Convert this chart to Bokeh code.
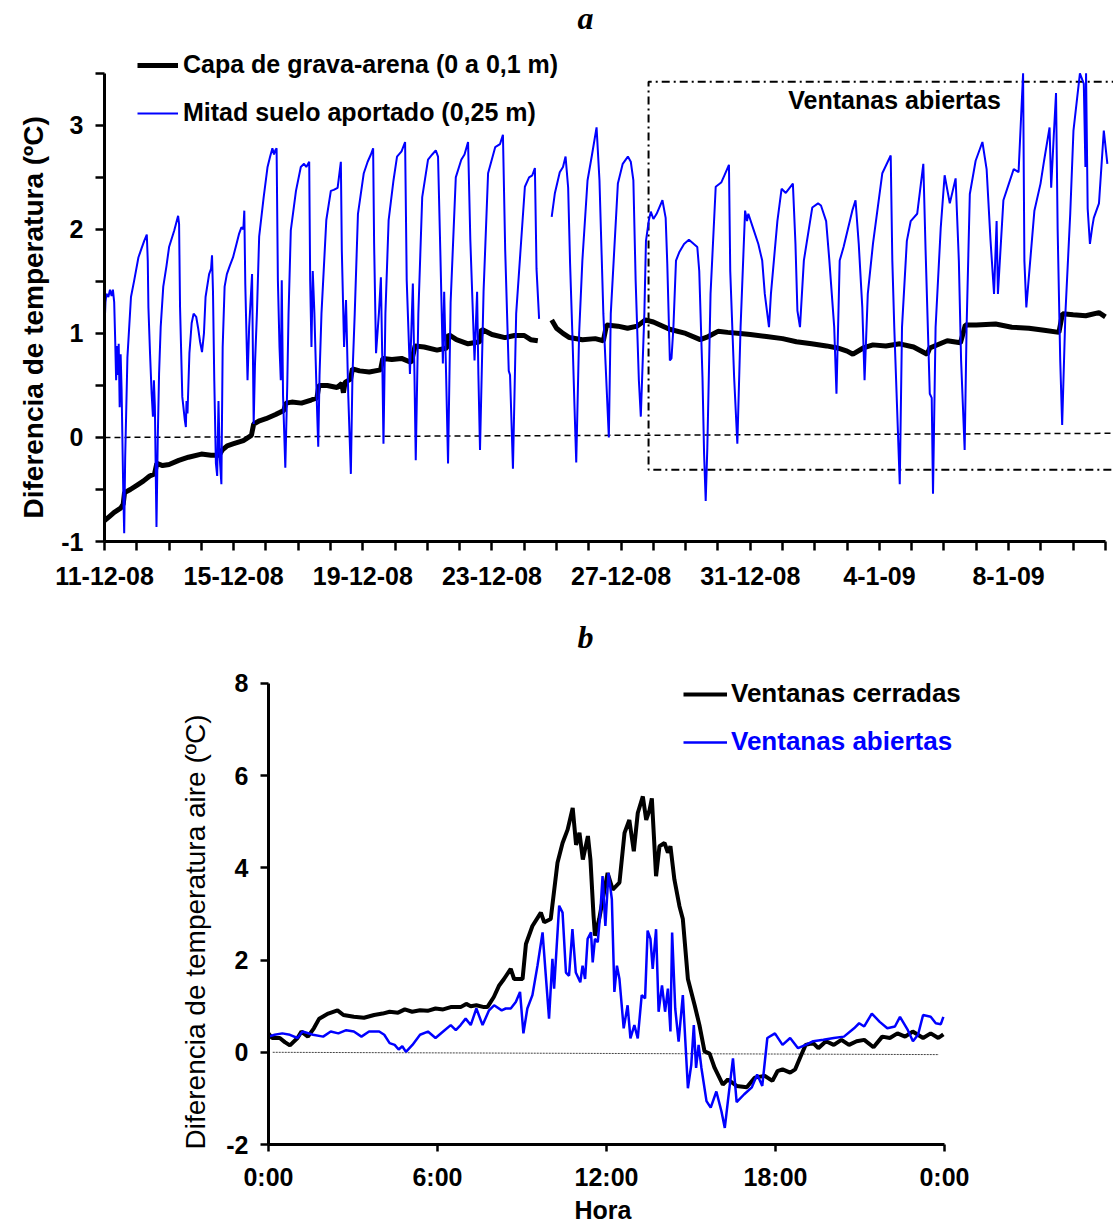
import numpy as np
from bokeh.plotting import figure
from bokeh.models import FixedTicker, Legend, LegendItem, Label, Range1d, Title
from bokeh.embed import file_html
from bokeh.resources import INLINE

nan = float("nan")

# ---------------- Panel a data (x = days since 11-12-08) ----------------
date_labels = ["11-12-08", "15-12-08", "19-12-08", "23-12-08", "27-12-08", "31-12-08", "4-1-09", "8-1-09"]
date_label_days = [0, 4, 8, 12, 16, 20, 24, 28]
n_days = 31

grava_days = [0.00, 0.15, 0.30, 0.50, 0.58, 0.62, 0.80, 1.00, 1.20, 1.40, 1.55, 1.62, 1.80, 2.00, 2.30, 2.60,
              3.00, 3.30, 3.55, 3.65, 3.80, 4.00, 4.30, 4.55, 4.62, 4.80, 5.00, 5.30, 5.55, 5.62, 5.80, 6.10,
              6.40, 6.58, 6.64, 6.90, 7.20, 7.35, 7.40, 7.45, 7.62, 7.68, 7.90, 8.20, 8.55, 8.62, 8.90, 9.20,
              9.50, 9.62, 9.90, 10.30, 10.60, 10.66, 10.90, 11.26, 11.62, 11.68, 12.00, 12.40, 12.70, 13.00,
              13.20, 13.42, nan, 13.85, 14.00, 14.20, 14.40, 14.80, 15.20, 15.45, 15.55, 15.90, 16.20, 16.50,
              16.75, 17.00, 17.50, 18.00, 18.45, 18.70, 19.00, 19.30, 19.69, 20.00, 20.50, 21.00, 21.43, 21.90,
              22.36, 22.70, 23.00, 23.18, 23.50, 23.80, 24.20, 24.63, 25.06, 25.48, 25.56, 26.10, 26.51, 26.66,
              27.00, 27.60, 28.10, 28.63, 29.10, 29.56, 29.67, 30.00, 30.39, 30.80, 31.00]
grava_vals = [-0.80, -0.76, -0.72, -0.68, -0.64, -0.53, -0.50, -0.46, -0.42, -0.37, -0.35, -0.25, -0.27, -0.26,
              -0.22, -0.19, -0.16, -0.17, -0.17, -0.12, -0.08, -0.06, -0.03, 0.02, 0.13, 0.16, 0.18, 0.22, 0.26,
              0.33, 0.34, 0.33, 0.36, 0.38, 0.50, 0.50, 0.48, 0.52, 0.43, 0.53, 0.56, 0.66, 0.64, 0.63, 0.65,
              0.76, 0.75, 0.76, 0.72, 0.88, 0.87, 0.84, 0.86, 0.99, 0.94, 0.90, 0.92, 1.04, 0.99, 0.96, 0.98,
              0.98, 0.94, 0.93, nan, 1.13, 1.05, 1.00, 0.96, 0.94, 0.95, 0.93, 1.08, 1.07, 1.05, 1.07, 1.13,
              1.11, 1.04, 1.00, 0.94, 0.97, 1.02, 1.01, 1.00, 0.99, 0.97, 0.95, 0.92, 0.90, 0.88, 0.86, 0.83,
              0.80, 0.86, 0.89, 0.88, 0.90, 0.87, 0.80, 0.86, 0.93, 0.91, 1.08, 1.08, 1.09, 1.06, 1.05, 1.03,
              1.01, 1.19, 1.18, 1.17, 1.20, 1.16]

suelo_days = [0.00, 0.03, 0.06, 0.12, 0.17, 0.22, 0.26, 0.30, 0.33, 0.36, 0.39, 0.42, 0.44, 0.47, 0.50, 0.53,
              0.58, 0.61, 0.64, 0.71, 0.82, 0.92, 1.05, 1.15, 1.23, 1.31, 1.34, 1.36, 1.41, 1.46, 1.50, 1.53,
              1.56, 1.61, 1.65, 1.69, 1.74, 1.82, 1.92, 2.00, 2.16, 2.28, 2.31, 2.34, 2.41, 2.49, 2.52, 2.54,
              2.57, 2.63, 2.70, 2.76, 2.84, 2.90, 2.96, 3.02, 3.08, 3.13, 3.24, 3.30, 3.33, 3.36, 3.40, 3.45,
              3.49, 3.53, 3.57, 3.62, 3.66, 3.72, 3.79, 3.88, 3.98, 4.08, 4.17, 4.24, 4.30, 4.33, 4.36, 4.43,
              4.48, 4.57, 4.62, 4.66, 4.72, 4.79, 4.93, 5.05, 5.13, 5.20, 5.25, 5.29, 5.33, 5.37, 5.42, 5.46,
              5.49, 5.53, 5.60, 5.66, 5.70, 5.77, 5.93, 6.08, 6.18, 6.25, 6.34, 6.37, 6.41, 6.45, 6.50, 6.58,
              6.62, 6.66, 6.72, 6.87, 7.01, 7.10, 7.22, 7.32, 7.35, 7.42, 7.48, 7.55, 7.63, 7.68, 7.75, 7.85,
              8.03, 8.15, 8.25, 8.32, 8.35, 8.41, 8.50, 8.56, 8.60, 8.64, 8.70, 8.80, 8.95, 9.06, 9.20, 9.31,
              9.36, 9.46, 9.55, 9.60, 9.64, 9.72, 9.84, 10.02, 10.15, 10.26, 10.33, 10.40, 10.48, 10.52, 10.58,
              10.64, 10.72, 10.88, 11.05, 11.15, 11.26, 11.33, 11.46, 11.54, 11.58, 11.63, 11.74, 11.88, 12.10,
              12.25, 12.34, 12.41, 12.52, 12.56, 12.65, 12.75, 13.02, 13.15, 13.25, 13.33, 13.38, 13.46, nan,
              13.85, 13.95, 14.10, 14.20, 14.28, 14.36, 14.42, 14.49, 14.55, 14.61, 14.70, 14.80, 14.96, 15.10,
              15.24, 15.33, 15.45, 15.52, 15.62, 15.68, 15.90, 16.05, 16.21, 16.30, 16.38, 16.45, 16.55, 16.61,
              16.72, 16.77, 16.86, 16.92, 17.00, 17.10, 17.28, 17.38, 17.43, 17.51, 17.56, 17.62, 17.70, 17.80,
              17.95, 18.10, 18.36, 18.42, 18.52, 18.57, 18.62, 18.67, 18.77, 18.93, 19.10, 19.20, 19.34, 19.38,
              19.50, 19.60, 19.70, 19.84, 19.90, 19.94, 20.10, 20.25, 20.37, 20.45, 20.58, 20.64, 20.84, 20.97,
              21.10, 21.32, 21.40, 21.46, 21.54, 21.66, 21.92, 22.10, 22.19, 22.35, 22.45, 22.60, 22.67, 22.77,
              22.89, 23.16, 23.26, 23.36, 23.47, 23.54, 23.64, 23.80, 24.09, 24.35, 24.40, 24.46, 24.63, 24.70,
              24.85, 24.97, 25.17, 25.36, 25.43, 25.56, 25.62, 25.66, 25.74, 25.90, 26.02, 26.18, 26.36, 26.46,
              26.53, 26.64, 26.70, 26.80, 26.98, 27.19, 27.32, 27.44, 27.55, 27.63, 27.67, 27.84, 28.01, 28.16,
              28.31, 28.45, 28.49, 28.55, 28.80, 28.99, 29.10, 29.27, 29.32, 29.40, 29.47, 29.52, 29.60, 29.66,
              29.76, 29.91, 30.01, 30.21, 30.33, 30.38, 30.40, 30.45, 30.52, 30.59, 30.64, 30.80, 30.95, 31.06]
suelo_vals = [1.06, 1.30, 1.38, 1.35, 1.42, 1.36, 1.42, 1.30, 0.95, 0.55, 0.88, 0.60, 0.90, 0.29, 0.80, 0.45,
              -0.50, -0.92, -0.20, 0.77, 1.35, 1.51, 1.73, 1.82, 1.89, 1.95, 1.70, 1.25, 0.81, 0.42, 0.20, 0.55,
              0.30, -0.86, 0.00, 0.61, 1.06, 1.45, 1.65, 1.83, 1.99, 2.13, 2.05, 1.25, 0.39, 0.16, 0.10, 0.35,
              0.23, 0.81, 1.10, 1.19, 1.16, 1.05, 0.92, 0.82, 1.00, 1.35, 1.57, 1.62, 1.75, 1.40, 0.55, -0.25,
              -0.37, 0.35, -0.20, -0.45, 0.87, 1.45, 1.57, 1.65, 1.73, 1.85, 1.96, 2.02, 2.00, 2.18, 1.48, 0.55,
              1.06, 1.57, 0.13, 0.70, 1.19, 1.93, 2.31, 2.60, 2.70, 2.78, 2.72, 2.76, 2.78, 1.51, 0.87, 0.55,
              1.51, 0.40, -0.29, 0.50, 1.19, 1.99, 2.37, 2.60, 2.63, 2.60, 2.65, 1.51, 0.87, 1.60, 1.20, 0.30,
              -0.09, 0.60, 1.19, 2.09, 2.37, 2.38, 2.40, 2.65, 1.80, 0.87, 1.32, 0.40, -0.35, 0.60, 1.19, 2.15,
              2.54, 2.65, 2.72, 2.78, 1.87, 0.81, 1.20, 1.54, 0.81, -0.06, 1.19, 2.09, 2.47, 2.70, 2.75, 2.84,
              1.51, 0.61, 1.48, 0.60, -0.22, 1.19, 2.31, 2.67, 2.72, 2.76, 2.70, 1.80, 0.71, 1.40, 0.60,
              -0.25, 1.30, 2.50, 2.67, 2.72, 2.84, 1.90, 0.74, 1.40, 0.60, -0.12, 1.40, 2.54, 2.79,
              2.82, 2.91, 1.80, 0.64, 0.60, -0.30, 1.19, 2.41, 2.50, 2.52, 2.59, 1.62, 1.14, nan,
              2.12, 2.35, 2.55, 2.60, 2.70, 2.40, 1.67, 1.00, 0.36, -0.24, 1.00, 1.70, 2.47, 2.72,
              2.98, 2.47, 1.19, 0.70, 0.00, 1.19, 2.44, 2.63, 2.70, 2.65, 2.47, 1.51, 0.55, 0.20,
              1.19, 1.89, 2.09, 2.17, 2.10, 2.15, 2.28, 2.11, 1.67, 0.74, 0.76, 1.06, 1.70, 1.78,
              1.86, 1.90, 1.83, 1.60, 0.58, -0.16, -0.61, -0.10, 1.38, 2.41, 2.45, 2.52, 2.62, 1.60,
              0.58, -0.06, 1.06, 2.18, 2.08, 2.15, 2.00, 1.86, 1.70, 1.38, 1.06, 1.38, 2.08, 2.39,
              2.35, 2.44, 1.86, 1.22, 1.06, 1.70, 2.21, 2.25, 2.23, 2.08, 1.70, 1.06, 0.42, 1.70,
              1.83, 2.18, 2.28, 1.86, 1.25, 0.55, 1.38, 1.86, 2.54, 2.71, 1.70, 1.06, -0.45, 1.06,
              1.89, 2.08, 2.15, 2.63, 1.80, 0.42, 0.38, -0.54, 1.06, 2.02, 2.52, 2.25, 2.49, 1.70,
              0.74, -0.12, 1.06, 2.34, 2.66, 2.84, 2.58, 1.90, 1.38, 2.08, 1.38, 2.28, 2.44, 2.58,
              2.55, 3.50, 1.70, 1.25, 2.18, 2.44, 2.66, 2.98, 2.40, 2.90, 3.31, 2.00, 0.74, 0.12,
              1.19, 2.15, 2.95, 3.50, 3.40, 2.60, 3.50, 2.20, 1.86, 2.02, 2.11, 2.25, 2.95, 2.63]

zero_a_days = [0.0, 31.25]
zero_a_vals = [0.0, 0.04]

# window-open period (dash-dot frame)
open_start_day = 16.85
open_top = 3.42
open_bottom = -0.31

# ---------------- Panel b data (x = hour of day) ----------------
hour_ticks = [0, 6, 12, 18, 24]
hour_labels = ["0:00", "6:00", "12:00", "18:00", "0:00"]

cerr_h = [0.00, 0.13, 0.40, 0.58, 0.76, 1.03, 1.17, 1.40, 1.61, 1.80, 2.12, 2.45, 2.66, 3.03, 3.39, 3.75, 4.05,
          4.30, 4.60, 4.84, 5.10, 5.38, 5.65, 5.93, 6.20, 6.47, 6.82, 7.02, 7.18, 7.38, 7.65, 7.77, 8.00, 8.19,
          8.36, 8.60, 8.72, 9.02, 9.14, 9.37, 9.67, 9.79, 10.02, 10.26, 10.44, 10.62, 10.80, 10.92, 11.04,
          11.16, 11.34, 11.43, 11.54, 11.59, 11.74, 12.04, 12.22, 12.46, 12.64, 12.81, 12.97, 13.11, 13.29,
          13.41, 13.53, 13.61, 13.76, 13.88, 14.06, 14.18, 14.27, 14.41, 14.59, 14.71, 14.89, 15.13, 15.30,
          15.48, 15.66, 15.84, 16.13, 16.31, 16.62, 16.98, 17.26, 17.62, 17.89, 18.07, 18.25, 18.52, 18.70,
          18.89, 19.07, 19.34, 19.52, 19.79, 20.07, 20.34, 20.61, 20.88, 21.15, 21.48, 21.79, 22.06, 22.33,
          22.60, 22.87, 23.24, 23.51, 23.78, 23.96]
cerr_v = [0.41, 0.31, 0.31, 0.22, 0.15, 0.31, 0.45, 0.34, 0.52, 0.73, 0.84, 0.91, 0.81, 0.77, 0.75, 0.81, 0.84,
          0.88, 0.86, 0.93, 0.88, 0.91, 0.90, 0.95, 0.93, 0.98, 0.98, 1.05, 1.00, 1.02, 0.98, 0.98, 1.20, 1.45,
          1.59, 1.81, 1.59, 1.59, 2.35, 2.74, 3.03, 2.82, 2.89, 4.11, 4.54, 4.83, 5.30, 4.50, 4.76,
          4.18, 4.69, 4.18, 2.96, 2.53, 2.89, 3.89, 3.53, 3.68, 4.76, 5.04, 4.36, 5.19, 5.55,
          5.04, 5.26, 5.51, 3.82, 4.47, 4.54, 4.33, 4.47, 3.75, 3.17, 2.89, 1.59, 1.02, 0.59,
          0.02, -0.03, -0.34, -0.70, -0.59, -0.73, -0.76, -0.55, -0.51, -0.62, -0.41, -0.37, -0.44, -0.37,
          -0.09, 0.16, 0.20, 0.09, 0.24, 0.16, 0.27, 0.16, 0.24, 0.27, 0.11, 0.34, 0.31, 0.41,
          0.34, 0.45, 0.31, 0.41, 0.31, 0.39]

abie_h = [0.00, 0.22, 0.49, 0.76, 1.03, 1.21, 1.58, 1.94, 2.21, 2.48, 2.76, 3.03, 3.30, 3.57, 3.93, 4.11, 4.30,
          4.48, 4.62, 4.75, 4.88, 5.11, 5.38, 5.66, 5.93, 6.20, 6.47, 6.65, 6.82, 7.00, 7.18, 7.38, 7.60, 7.83,
          8.01, 8.28, 8.42, 8.60, 8.78, 8.93, 9.05, 9.19, 9.37, 9.55, 9.73, 9.96, 10.08, 10.14, 10.32, 10.44,
          10.56, 10.67, 10.79, 10.91, 11.07, 11.15, 11.24, 11.33, 11.45, 11.51, 11.59, 11.69, 11.78, 11.86,
          11.96, 12.07, 12.19, 12.28, 12.37, 12.46, 12.61, 12.75, 12.85, 12.99, 13.11, 13.25, 13.37, 13.46,
          13.56, 13.64, 13.76, 13.85, 13.97, 14.08, 14.18, 14.27, 14.33, 14.44, 14.56, 14.71, 14.89, 15.01,
          15.10, 15.18, 15.27, 15.37, 15.55, 15.70, 15.90, 16.08, 16.20, 16.31, 16.49, 16.62, 16.89, 17.16,
          17.35, 17.53, 17.71, 17.98, 18.25, 18.52, 18.80, 19.07, 19.34, 19.70, 20.07, 20.43, 20.79, 20.97,
          21.15, 21.42, 21.70, 21.97, 22.24, 22.42, 22.70, 22.88, 23.06, 23.24, 23.51, 23.69, 23.87, 23.96]
abie_v = [0.34, 0.38, 0.41, 0.38, 0.31, 0.45, 0.38, 0.34, 0.45, 0.41, 0.48, 0.45, 0.34, 0.45, 0.45, 0.38, 0.20,
          0.16, 0.06, 0.13, 0.01, 0.16, 0.38, 0.45, 0.31, 0.45, 0.59, 0.48, 0.59, 0.73, 0.59, 0.95, 0.59, 0.91,
          1.02, 0.91, 0.95, 0.95, 1.09, 1.31, 0.41, 0.95, 1.24, 1.88, 2.60, 0.73, 2.03, 1.38, 3.18, 3.03,
          1.73, 1.66, 2.67, 1.73, 1.52, 1.88, 1.59, 2.46, 2.60, 1.95, 2.46, 2.39, 3.03, 3.82,
          2.74, 3.89, 3.32, 1.31, 1.88, 1.59, 0.52, 1.02, 0.30, 0.59, 0.30, 1.24, 1.17, 2.64,
          2.46, 1.81, 2.67, 0.88, 1.45, 0.88, 1.38, 0.45, 2.60, 0.95, 0.23, 1.24, -0.78, -0.27,
          0.59, -0.34, 0.16, -0.34, -1.06, -1.20, -0.85, -1.28, -1.64, -1.06, -0.13, -1.08, -0.91, -0.76,
          -0.48, -0.73, 0.31, 0.41, 0.16, 0.31, 0.09, 0.16, 0.24, 0.27, 0.31, 0.34, 0.52, 0.63,
          0.56, 0.84, 0.66, 0.52, 0.56, 0.77, 0.48, 0.24, 0.38, 0.81, 0.77, 0.63, 0.61, 0.77]

zero_b_h = [0.15, 23.8]
zero_b_v = [0.0, -0.05]

FONT = "Liberation Sans"
BLUE = "#0000ff"


def style_axis(ax, size="25px"):
    ax.axis_line_width = 3
    ax.axis_line_color = "black"
    ax.major_tick_line_width = 2.5
    ax.minor_tick_line_width = 2.5
    ax.major_tick_in = 0
    ax.minor_tick_in = 0
    ax.major_tick_out = 9
    ax.minor_tick_out = 9
    ax.major_label_text_font = FONT
    ax.major_label_text_font_style = "bold"
    ax.major_label_text_font_size = size
    ax.major_label_text_color = "black"


# ---------------- Figure a ----------------
pa = figure(width=1113, height=600, output_backend="svg", toolbar_location=None,
            x_range=Range1d(0, 31.25), y_range=Range1d(-1, 4.2),
            min_border_left=104, min_border_right=0, min_border_top=0, min_border_bottom=59)
pa.outline_line_color = None
pa.grid.visible = False

pa.line(zero_a_days, zero_a_vals, line_color="black", line_dash="6 4", line_width=1.5)
pa.line([32, open_start_day, open_start_day, 32], [open_top, open_top, open_bottom, open_bottom],
        line_color="black", line_dash="8 4 2 4", line_width=2)
r_grava = pa.line(np.array(grava_days), np.array(grava_vals), line_color="black", line_width=5)
r_suelo = pa.line(np.array(suelo_days), np.array(suelo_vals), line_color=BLUE, line_width=2)

xa = pa.xaxis[0]
xa.ticker = FixedTicker(ticks=date_label_days,
                        minor_ticks=[d for d in range(n_days + 1) if d not in date_label_days])
xa.major_label_overrides = {d: lab for d, lab in zip(date_label_days, date_labels)}
xa.bounds = (0, n_days)
style_axis(xa)
xa.major_label_standoff = 16

ya = pa.yaxis[0]
ya.ticker = FixedTicker(ticks=[-1, 0, 1, 2, 3], minor_ticks=[-0.5, 0.5, 1.5, 2.5, 3.5])
ya.major_label_overrides = {-1: "-1", 0: "0", 1: "1", 2: "2", 3: "3"}
ya.bounds = (-1, 3.5)
style_axis(ya)
ya.major_label_standoff = 12

pa.add_layout(Title(text="Diferencia de temperatura (ºC)", align="left", offset=13, standoff=0, padding=10,
                    text_font=FONT, text_font_style="bold", text_font_size="28px", text_color="black"),
              "left")

leg_a = Legend(items=[LegendItem(label="Capa de grava-arena (0 a 0,1 m)", renderers=[r_grava]),
                      LegendItem(label="Mitad suelo aportado (0,25 m)", renderers=[r_suelo])],
               location=(33, 414), border_line_color=None, background_fill_alpha=0,
               padding=0, margin=0, spacing=19, glyph_width=41, glyph_height=20, label_height=20,
               label_standoff=5, label_text_font=FONT, label_text_font_style="bold",
               label_text_font_size="25px", label_text_color="black")
pa.add_layout(leg_a)

pa.add_layout(Label(x=24.47, y=3.24, text="Ventanas abiertas", text_align="center", text_baseline="middle",
                    text_font=FONT, text_font_style="bold", text_font_size="25px", text_color="black"))
pa.add_layout(Label(x=14.9, y=4.03, text="a", text_align="center", text_baseline="middle",
                    text_font="Liberation Serif", text_font_style="bold italic", text_font_size="32px",
                    text_color="black"))

# ---------------- Figure b ----------------
pb = figure(width=1113, height=624, output_backend="svg", toolbar_location=None,
            x_range=Range1d(0, 30.0), y_range=Range1d(-2, 9.8),
            min_border_left=268, min_border_right=0, min_border_top=0, min_border_bottom=77)
pb.outline_line_color = None
pb.grid.visible = False

pb.line(zero_b_h, zero_b_v, line_color="#444444", line_dash="2 1", line_width=1)
r_cerr = pb.line(cerr_h, cerr_v, line_color="black", line_width=4)
r_abie = pb.line(abie_h, abie_v, line_color=BLUE, line_width=2.5)

xb = pb.xaxis[0]
xb.ticker = FixedTicker(ticks=hour_ticks)
xb.major_label_overrides = {t: lab for t, lab in zip(hour_ticks, hour_labels)}
xb.bounds = (0, 24)
style_axis(xb)
xb.major_tick_out = 7
xb.major_label_standoff = 11

pb.add_layout(Title(text="Hora", align="left", offset=306, standoff=1,
                    text_font=FONT, text_font_style="bold", text_font_size="25px", text_color="black"),
              "below")

yb = pb.yaxis[0]
yb.ticker = FixedTicker(ticks=[-2, 0, 2, 4, 6, 8])
yb.major_label_overrides = {-2: "-2", 0: "0", 2: "2", 4: "4", 6: "6", 8: "8"}
yb.bounds = (-2, 8)
style_axis(yb)
yb.major_tick_out = 8
yb.major_label_standoff = 12

pb.add_layout(Title(text="Diferencia de temperatura aire (ºC)", align="left", offset=-15, standoff=6,
                    padding=10,
                    text_font=FONT, text_font_style="normal", text_font_size="28px", text_color="black"),
              "left")

common_leg = dict(border_line_color=None, background_fill_alpha=0, padding=0, margin=0, spacing=0,
                  glyph_width=44, glyph_height=20, label_height=20, label_standoff=4,
                  label_text_font=FONT, label_text_font_style="bold", label_text_font_size="26px")
leg_b1 = Legend(items=[LegendItem(label="Ventanas cerradas", renderers=[r_cerr])],
                location=(415, 435), label_text_color="black", **common_leg)
leg_b2 = Legend(items=[LegendItem(label="Ventanas abiertas", renderers=[r_abie])],
                location=(415, 387), label_text_color=BLUE, **common_leg)
pb.add_layout(leg_b1)
pb.add_layout(leg_b2)

pb.add_layout(Label(x=11.25, y=9.0, text="b", text_align="center", text_baseline="middle",
                    text_font="Liberation Serif", text_font_style="bold italic", text_font_size="32px",
                    text_color="black"))

open("out.html", "w").write(file_html([pa, pb], INLINE))
